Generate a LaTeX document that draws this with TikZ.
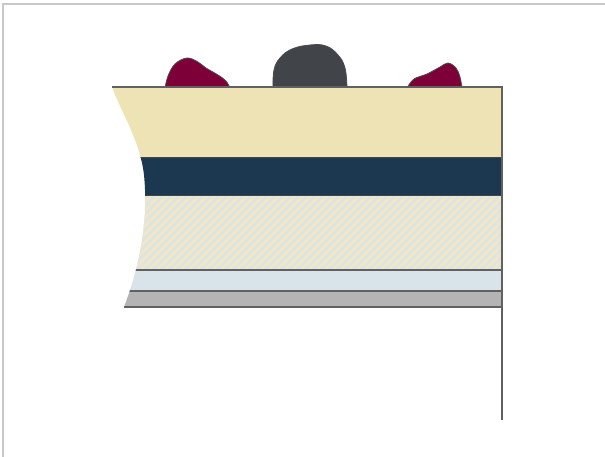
\documentclass[tikz,border=0pt]{standalone}
\begin{document}
\begin{tikzpicture}[x=1pt,y=-1pt,
  edge/.style={draw=black!62,line width=1.1pt},
  seam/.style={draw=seamgray,line width=0.9pt},
  blob/.style={draw=black!70,line width=0.8pt}]
\definecolor{sand}{HTML}{EEE3B4}
\definecolor{navy}{HTML}{1B3850}
\definecolor{mist}{HTML}{DCE4E6}
\definecolor{straw}{HTML}{F0E7C6}
\definecolor{sky}{HTML}{D8E3EA}
\definecolor{stone}{HTML}{B4B4B4}
\definecolor{wine}{HTML}{7D0038}
\definecolor{slate}{HTML}{414448}
\definecolor{frame}{HTML}{C8C8C8}
\definecolor{seamgray}{HTML}{3E464E}
\useasboundingbox (0,0) rectangle (605,457);
\fill[white] (0,0) rectangle (605,457);
% outer frame (top and left)
\draw[frame,line width=1.4pt] (3,457) -- (3,4) -- (605,4);
% blobs resting on the top surface
\draw[blob,fill=wine] plot[smooth,tension=0.6] coordinates
  {(165,88) (168,76) (175,64) (187,58) (198,62) (206,68) (218,75) (226,81) (230,88)} -- cycle;
\draw[blob,fill=slate] plot[smooth,tension=0.7] coordinates
  {(273,88) (274,70) (280,58) (292,49) (310,45) (326,46) (338,55) (345,68) (347,88)} -- cycle;
\draw[blob,fill=wine] plot[smooth,tension=0.6] coordinates
  {(407,88) (414,79) (427,74) (440,67) (448,63) (456,68) (460,77) (462,88)} -- cycle;
% layered section, cut by a curved left edge
\begin{scope}
  \clip (112,87) .. controls (120,110) and (140,140) .. (144,175)
    .. controls (148,215) and (142,260) .. (124,307)
    -- (502,307) -- (502,87) -- cycle;
  \fill[sand] (100,87) rectangle (502,157);
  \fill[navy] (100,157) rectangle (502,195.5);
  \fill[mist] (100,195.5) rectangle (502,270);
  \begin{scope}
    \clip (100,196) rectangle (502,270);
    \foreach \k in {0,...,60} {
      \draw[straw,line width=3pt] (40+\k*8,275) -- (125+\k*8,190);
    }
  \end{scope}
  \fill[sky] (100,270) rectangle (502,291);
  \fill[stone] (100,291) rectangle (502,307);
  \draw[seam] (100,157) -- (502,157);
  \draw[seam] (100,195.5) -- (502,195.5);
  \draw[edge] (100,270) -- (502,270);
  \draw[edge] (100,291) -- (502,291);
\end{scope}
\draw[edge] (112,87) -- (502,87);
\draw[edge] (124,307) -- (502,307);
\draw[edge] (502,86.5) -- (502,420);
\end{tikzpicture}
\end{document}
